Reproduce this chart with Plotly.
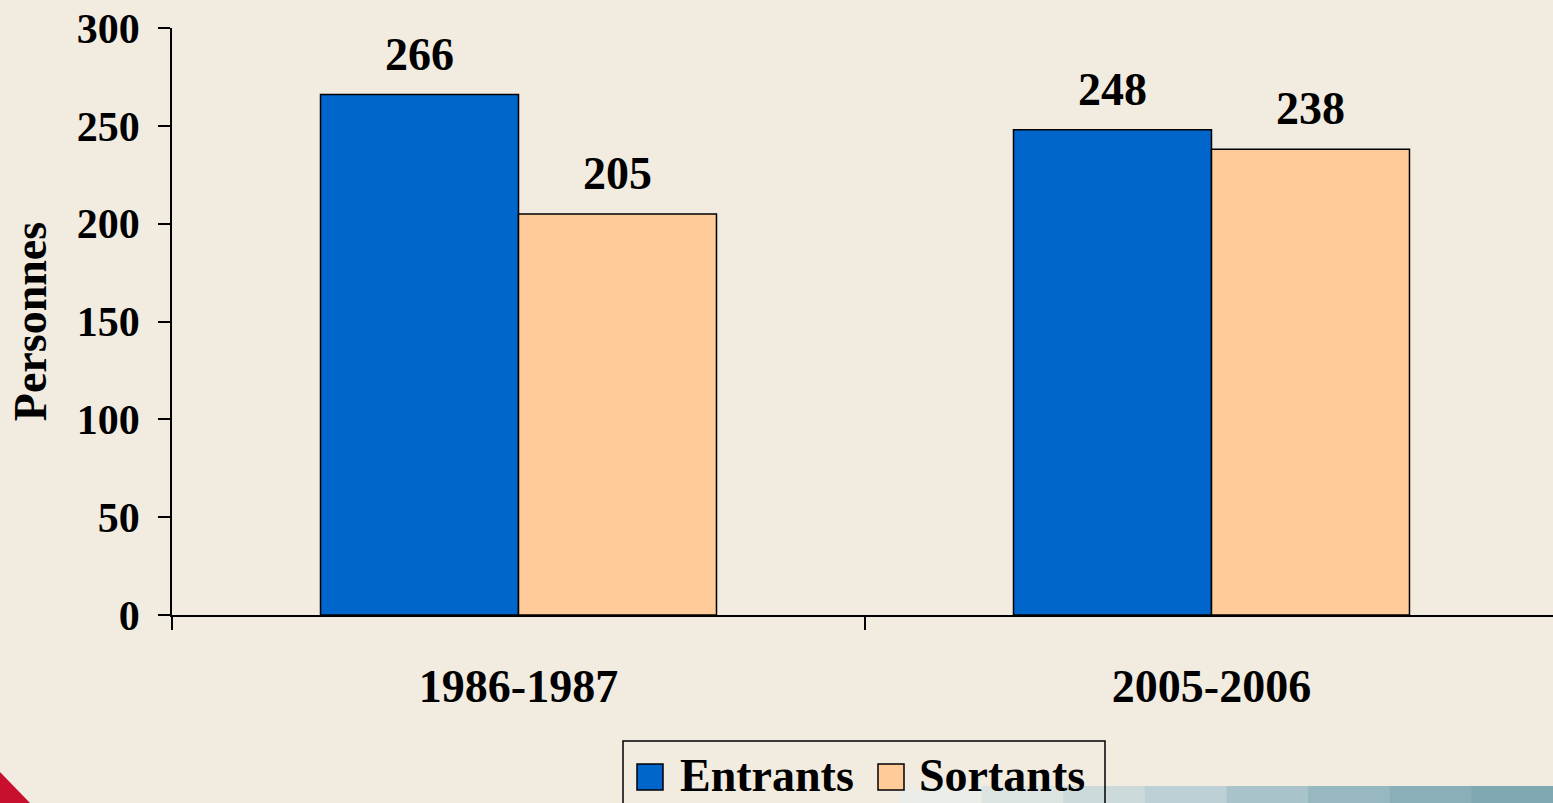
import plotly.graph_objects as go

# ---- data ----
categories = ["1986-1987", "2005-2006"]
series_names = ["Entrants", "Sortants"]
entrants = [266, 248]
sortants = [205, 238]
y_tick_vals = [0, 50, 100, 150, 200, 250, 300]
y_title = "Personnes"

# ---- style ----
FONT = "Liberation Serif"
BG = "#F1EBE0"
COLORS = ["#0066CC", "#FFCC99"]
W, H = 1553, 803
ML, MR, MT, MB = 172, 0, 28, 188
BARGAP = 0.4286
XMAX = 1.4928

fig = go.Figure()
for name, vals, col in zip(series_names, [entrants, sortants], COLORS):
    fig.add_trace(go.Bar(
        x=categories, y=vals, name=name,
        marker=dict(color=col, line=dict(color="black", width=1.5)),
        showlegend=False,
    ))

# value labels above bars (annotations positioned from data)
plot_w = W - ML - MR
cat_px = plot_w / (XMAX + 0.5)
bar_px = (1 - BARGAP) * cat_px / 2
for i, vals in enumerate([entrants, sortants]):
    shift = (-0.5 if i == 0 else 0.5) * bar_px
    for c, v in zip(categories, vals):
        fig.add_annotation(
            x=c, y=v, xref="x", yref="y", text=f"<b>{v}</b>",
            showarrow=False, xanchor="center", yanchor="bottom",
            xshift=shift, yshift=13,
            font=dict(family=FONT, size=46, color="black"),
        )

# ---- manual legend (box, swatches, labels) ----
def px_x(p):
    return (p - ML) / plot_w

plot_h = H - MT - MB
def px_y(p):
    return (H - MB - p) / plot_h

shapes = []
# decorative bottom-right strip
strip_cols = ["#EAEDE8", "#DCE4E2", "#CCDADC", "#BCD0D5", "#A9C3CA", "#98B8C0", "#8AAFB9", "#7FA8B3"]
sx0 = 900
step = (W - sx0) / len(strip_cols)
for k, sc in enumerate(strip_cols):
    shapes.append(dict(type="rect", xref="paper", yref="paper",
                       x0=px_x(sx0 + k * step), x1=px_x(sx0 + (k + 1) * step + 1),
                       y0=px_y(803), y1=px_y(786), fillcolor=sc,
                       line=dict(width=0), layer="below"))
# decorative red corner mark
shapes.append(dict(type="path", xref="paper", yref="paper",
                   path=f"M {px_x(0)},{px_y(772)} L {px_x(30)},{px_y(803)} L {px_x(0)},{px_y(803)} Z",
                   fillcolor="#C8102E", line=dict(width=0), layer="below"))

shapes.append(dict(type="rect", xref="paper", yref="paper",
                   x0=px_x(623), x1=px_x(1105), y0=px_y(820), y1=px_y(741),
                   fillcolor="rgba(0,0,0,0)", line=dict(color="black", width=1.5)))
sw_left = [637, 878]
txt_left = [679, 918]
for name, col, sl, tl in zip(series_names, COLORS, sw_left, txt_left):
    shapes.append(dict(type="rect", xref="paper", yref="paper",
                       x0=px_x(sl), x1=px_x(sl + 26), y0=px_y(790), y1=px_y(764),
                       fillcolor=col, line=dict(color="black", width=1.5)))
    fig.add_annotation(x=px_x(tl), y=px_y(802), xref="paper", yref="paper",
                       text=f"<b>{name}</b>", showarrow=False,
                       xanchor="left", yanchor="bottom", borderpad=0,
                       font=dict(family=FONT, size=46, color="black"))

fig.update_layout(
    width=W, height=H,
    margin=dict(l=ML, r=MR, t=MT, b=MB, autoexpand=False),
    paper_bgcolor=BG, plot_bgcolor="rgba(0,0,0,0)",
    barmode="group", bargap=BARGAP, bargroupgap=0,
    font=dict(family=FONT, color="black"),
    shapes=shapes,
    xaxis=dict(
        type="category", range=[-0.5, XMAX],
        showline=True, linecolor="black", linewidth=1.5,
        ticks="outside", tickson="boundaries", ticklen=13, tickwidth=1.5, tickcolor="black",
        tickfont=dict(family=FONT, size=46, color="black", weight="bold"),
        ticklabelstandoff=30,
        showgrid=False, zeroline=False, automargin=False,
    ),
    yaxis=dict(
        range=[0, 300], tickvals=y_tick_vals,
        showline=True, linecolor="black", linewidth=1.5,
        ticks="outside", ticklen=12, tickwidth=1.5, tickcolor="black",
        tickfont=dict(family=FONT, size=42, color="black", weight="bold"),
        ticklabelstandoff=10,
        showgrid=False, zeroline=False, automargin=False,
        title=dict(text=f"<b>{y_title}</b>", font=dict(family=FONT, size=46, color="black"),
                   standoff=16),
    ),
)

fig.write_html("out.html", config={"displayModeBar": False},
               post_script="document.body.style.margin='0';document.body.style.overflow='hidden';")
